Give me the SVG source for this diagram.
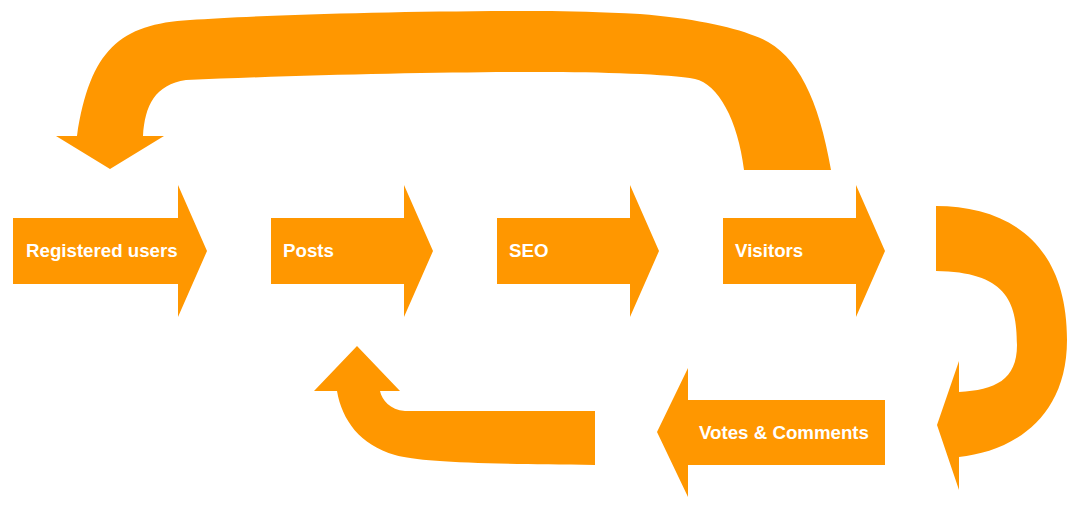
<svg xmlns="http://www.w3.org/2000/svg" width="1080" height="507" viewBox="0 0 1080 507">
<style>
.shape{fill:#FF9700;stroke:none}
.label{fill:#FFFFFF;font-family:"Liberation Sans",Arial,Helvetica,sans-serif;font-weight:bold;font-size:18.7px}
</style>
<rect width="1080" height="507" fill="#FFFFFF"/>
<g id="connectors">
<path id="loop-top" class="shape" d="M 831 170 C 818 95, 795 50, 755 36 C 730 26, 690 18, 640 14 C 600 12, 570 11, 540 11 C 400 11, 260 15, 190 20 C 120 24, 90 50, 77 136 L 56 136 L 110 169 L 164 136 L 143 136 C 145 105, 155 85, 186 80 C 300 75, 450 72, 540 72 C 600 72, 670 74, 695 79 C 718 84, 738 120, 744 170 Z"/>
<path id="loop-right" class="shape" d="M 936 206 C 1005 206, 1067 240, 1067 340 C 1067 420, 1010 452, 959 457 L 959 490 L 937 425 L 959 361 L 959 392 C 995 390, 1017 380, 1017 345 C 1017 300, 1005 272, 936 271 Z"/>
<path id="loop-bottom" class="shape" d="M 595 411 L 405 411 C 390 410, 382 400, 380 391 L 400 391 L 357 346 L 314 391 L 337 391 C 342 420, 360 445, 395 455 C 420 462, 480 464, 595 465 Z"/>
</g>
<g id="node-registered-users">
<path class="shape" d="M 13 218 H 178 V 185 L 207 251 L 178 317 V 284 H 13 Z"/>
<text class="label" x="26" y="257">Registered users</text>
</g>
<g id="node-posts">
<path class="shape" d="M 271 218 H 404 V 185 L 433 251 L 404 317 V 284 H 271 Z"/>
<text class="label" x="283" y="257">Posts</text>
</g>
<g id="node-seo">
<path class="shape" d="M 497 218 H 630 V 185 L 659 251 L 630 317 V 284 H 497 Z"/>
<text class="label" x="509" y="257">SEO</text>
</g>
<g id="node-visitors">
<path class="shape" d="M 723 218 H 856 V 185 L 885 251 L 856 317 V 284 H 723 Z"/>
<text class="label" x="735" y="257">Visitors</text>
</g>
<g id="node-votes-comments">
<path class="shape" d="M 885 400 H 688 V 368 L 657 432 L 688 497 V 465 H 885 Z"/>
<text class="label" x="699" y="439">Votes &amp; Comments</text>
</g>
</svg>
